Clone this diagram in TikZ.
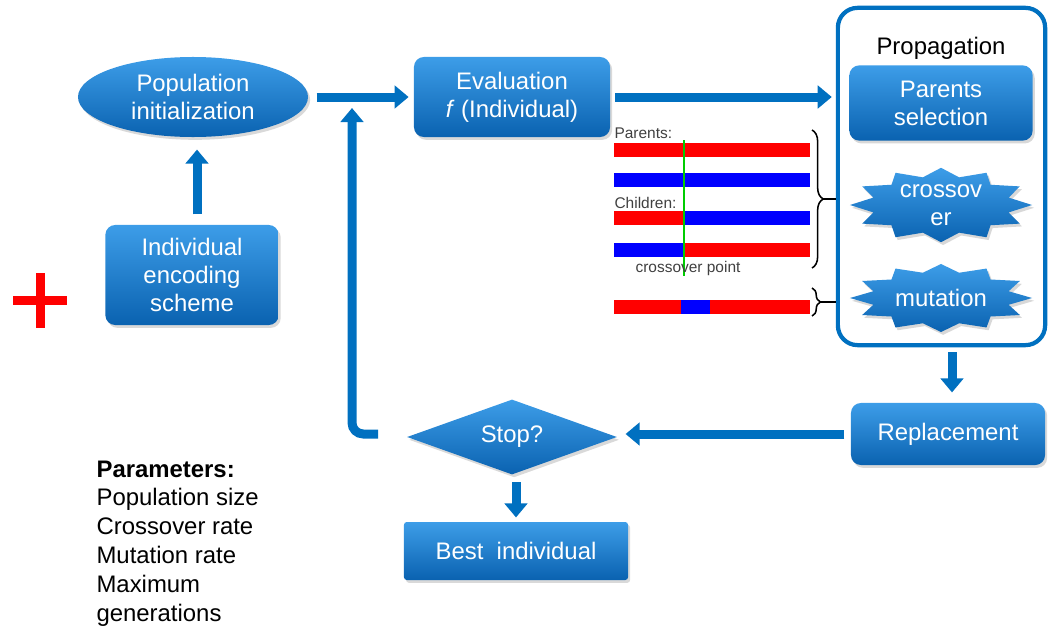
\documentclass[tikz,border=0pt]{standalone}
\usepackage{fontspec}
\setmainfont{Liberation Sans}
\usetikzlibrary{shapes.geometric,shadows,arrows.meta,decorations.pathreplacing}
\definecolor{gablue}{HTML}{0070C0}
\definecolor{boxtop}{HTML}{3D9DE8}
\definecolor{boxbot}{HTML}{0A62B0}

\begin{document}
\begin{tikzpicture}[x=0.025cm, y=-0.025cm,
    box/.style = {top color=boxtop, bottom color=boxbot, text=white, align=center,
      font=\fontsize{17}{20}\selectfont,
      drop shadow={opacity=0.3, shadow xshift=1.5pt, shadow yshift=-2pt}},
    proc/.style = {box, rectangle, rounded corners=7pt},
    starbox/.style = {box, star, star points=12, star point ratio=1.3, minimum size=2cm,
      inner sep=0pt, transform shape},
    lbl/.style = {text=white, align=center, font=\fontsize{17}{20}\selectfont},
    flow/.style = {gablue, line width=6.4pt, -{Triangle[width=16pt,length=10pt]}},
    tiny/.style = {text=black!75, font=\fontsize{11}{12}\selectfont, inner sep=0pt},
    brace/.style = {decorate, decoration={brace, amplitude=#1}, line width=1.1pt},
    thick]
    \useasboundingbox (0,0) rectangle (1050,631);

    % main loop
    \node[box, ellipse, minimum width=5.75cm, minimum height=2cm] (pop) at (193,97) {Population\\initialization};
    \node[proc, minimum width=4.33cm, minimum height=2.5cm] (enc) at (192,275) {Individual\\encoding\\scheme};
    \node[proc, minimum width=4.9cm, minimum height=2cm] (eval) at (512,97) {Evaluation\\\textit{f} (Individual)};

    % propagation block
    \node[draw=gablue, line width=3pt, rounded corners=14pt, fill=white,
      minimum width=5.18cm, minimum height=8.43cm] (prop) at (941.5,176.5) {};
    \node[font=\fontsize{17}{20}\selectfont] (proptitle) at (941,48) {Propagation};
    \node[proc, minimum width=4.58cm, minimum height=1.88cm] (sel) at (941,103) {Parents\\selection};
    \begin{scope}[shift={(941,205)}]
      \node[starbox, xscale=2.275, yscale=0.93] (cross) at (0,0) {};
    \end{scope}
    \node[lbl] (crosstxt) at (cross) {crossov\\er};
    \begin{scope}[shift={(941,298)}]
      \node[starbox, xscale=2.275, yscale=0.85] (mut) at (0,0) {};
    \end{scope}
    \node[lbl] (muttxt) at (mut) {mutation};

    \node[proc, minimum width=4.85cm, minimum height=1.55cm] (repl) at (948,434) {Replacement};
    \node[box, diamond, aspect=2.8, inner sep=0pt, minimum width=5.25cm, minimum height=1.88cm] (stop) at (512,437) {Stop?};
    \node[proc, rounded corners=2pt, minimum width=5.6cm, minimum height=1.45cm] (best) at (516,551) {Best\ \ individual};

    \draw[flow, shorten <=0.25cm, shorten >=0.3cm] (enc.north -| 197,0) -- (pop.south -| 197,0);
    \draw[flow, shorten <=0.2cm, shorten >=0.12cm] (pop.east) -- (pop.east -| eval.west);
    \draw[flow, shorten <=0.12cm, shorten >=0.1cm] (eval.east) -- (prop.west |- eval.east);
    \draw[flow, shorten <=0.12cm, shorten >=0.25cm] (prop.south -| 952,0) -- (repl.north -| 952,0);
    \draw[flow, shorten <=0.15cm, shorten >=0.2cm] (repl.west) -- (repl.west -| stop.east);
    \draw[flow, shorten <=0.18cm, shorten >=0.1cm] (stop.south -| 516,0) -- (best.north -| 516,0);
    \coordinate (loopa) at (378,434);
    \coordinate (loopb) at (352,108);
    \draw[flow, rounded corners=8pt] (loopa) -| (loopb);

    % chromosomes
    \fill[red] (614,143) rectangle (810,157);
    \fill[blue] (614,173) rectangle (810,187);
    \fill[red] (614,211) rectangle (684,225);
    \fill[blue] (684,211) rectangle (810,225);
    \fill[blue] (614,243) rectangle (684,257);
    \fill[red] (684,243) rectangle (810,257);
    \fill[red] (614,300) rectangle (810,314);
    \fill[blue] (681,300) rectangle (710,314);
    \draw[green!80!black, line width=0.9pt] (684,140) -- (684,276);
    \node[tiny, anchor=west] (par) at (614,133) {Parents:};
    \node[tiny, anchor=west] (chi) at (614,203) {Children:};
    \node[tiny] (cpt) at (688,268) {crossover point};

    \draw[brace=8pt] (812,130) -- (812,268);
    \draw[line width=1.1pt] (823,199) -- (prop.west |- 0,199);
    \draw[brace=6pt] (812,288) -- (812,316);
    \draw[line width=1.1pt] (821,302) -- (prop.west |- 0,302);

    % plus sign and parameters
    \draw[red, line width=6.4pt] (13,300) -- (67,300) (40,273) -- (40,328);
    \node[anchor=north west, align=left, inner sep=0pt, font=\fontsize{17}{20.5}\selectfont] (params) at (96,460)
      {\textbf{Parameters:}\\Population size\\Crossover rate\\Mutation rate\\Maximum\\generations};
\end{tikzpicture}
\end{document}
